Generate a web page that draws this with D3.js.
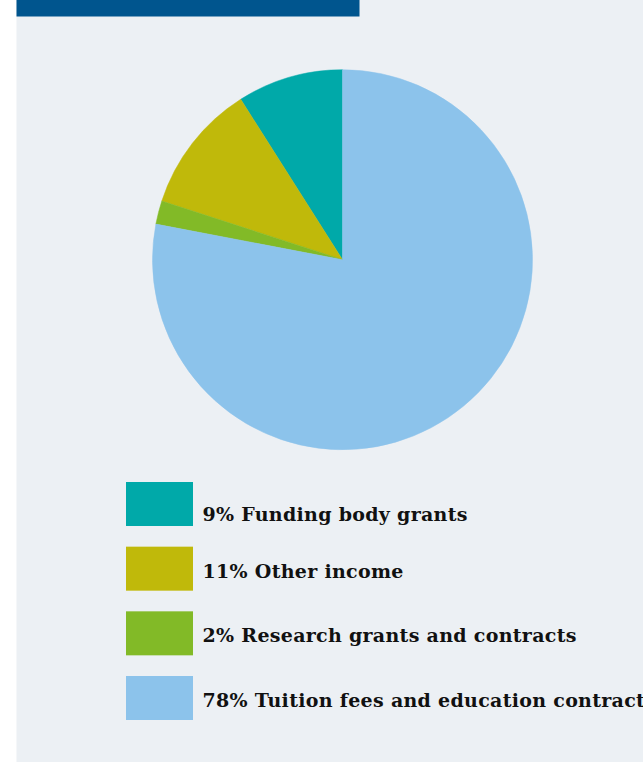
<!DOCTYPE html>
<html>
<head>
<meta charset="utf-8">
<script src="https://cdn.jsdelivr.net/npm/d3@7"></script>
<style>
  html, body { margin: 0; padding: 0; background: #ffffff; }
  svg { display: block; }
</style>
</head>
<body>
<script>
// Income sources, listed in legend order
const categories = [
  "Funding body grants",
  "Other income",
  "Research grants and contracts",
  "Tuition fees and education contracts"
];
const shares = [9, 11, 2, 78];
const colors = ["#00a9a9", "#c0b90a", "#82ba27", "#8cc3eb"];

const W = 643, H = 762;
const svg = d3.select("body").append("svg")
  .attr("width", W).attr("height", H);

// Panel background and header band
svg.append("rect")
  .attr("x", 16.5).attr("y", 0).attr("width", W - 16.5).attr("height", H)
  .attr("fill", "#ecf0f4");
svg.append("rect")
  .attr("x", 16.5).attr("y", 0).attr("width", 343).attr("height", 16.5)
  .attr("fill", "#00558e");

// Pie: first category sits just left of 12 o'clock, slices run counter-clockwise
const cx = 342.5, cy = 259.7, r = 190;
const pie = d3.pie().sort(null).value(d => d.value)
  .startAngle(0).endAngle(-2 * Math.PI);
const arc = d3.arc().innerRadius(0).outerRadius(r);
const data = categories.map((c, i) => ({ name: c, value: shares[i], color: colors[i] }));

svg.append("g")
  .attr("transform", `translate(${cx},${cy})`)
  .selectAll("path")
  .data(pie(data))
  .join("path")
  .attr("d", arc)
  .attr("fill", d => d.data.color)
  .attr("stroke", d => d.data.color)
  .attr("stroke-width", 0.5);

// Legend
const rowY = d3.scaleLinear().domain([0, 3]).range([482, 676]);
const legend = svg.append("g");
const rows = legend.selectAll("g")
  .data(data)
  .join("g")
  .attr("transform", (d, i) => `translate(0,${rowY(i)})`);

rows.append("rect")
  .attr("x", 126).attr("y", 0)
  .attr("width", 67).attr("height", 44)
  .attr("fill", d => d.color);

rows.append("text")
  .attr("x", 202.5)
  .attr("y", (d, i) => i === 0 ? 38.5 : 31)
  .attr("font-family", "'DejaVu Serif', serif")
  .attr("font-weight", "bold")
  .attr("font-size", 19)
  .attr("letter-spacing", 0.3)
  .attr("fill", "#111111")
  .text(d => `${d.value}% ${d.name}`);
</script>
</body>
</html>
